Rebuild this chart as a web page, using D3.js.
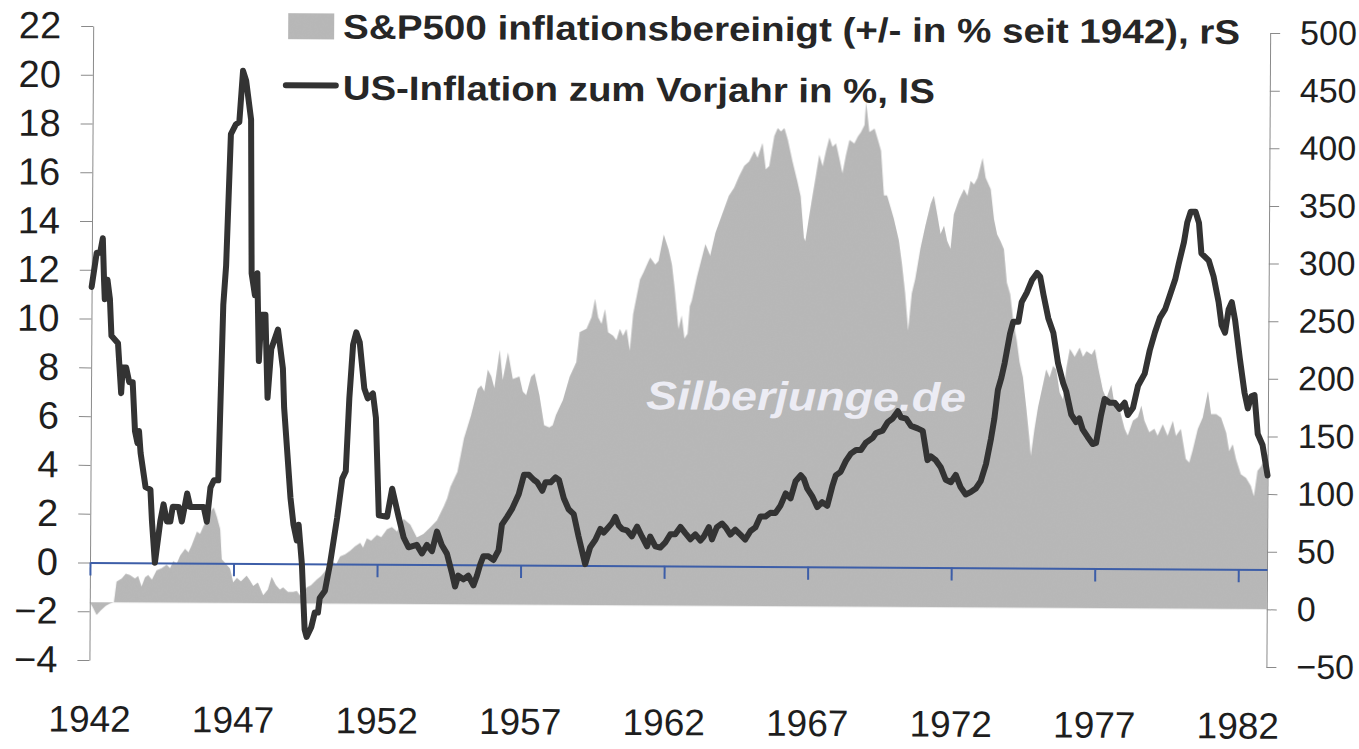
<!DOCTYPE html>
<html>
<head>
<meta charset="utf-8">
<script src="https://cdn.jsdelivr.net/npm/d3@7"></script>
<style>
  body { margin: 0; background: #fff; }
  svg { display: block; font-family: "Liberation Sans", Arial, sans-serif; }
</style>
</head>
<body>
<div id="chart"></div>
<script>
const width = 1359, height = 749;

// US-Inflation zum Vorjahr in % (linke Skala), [Jahr, Wert]
const inflation = [
  [1942.00, 11.3], [1942.17, 12.7], [1942.29, 12.7], [1942.38, 13.3], [1942.43, 11.6],
  [1942.46, 10.8], [1942.55, 11.6], [1942.64, 10.8], [1942.70, 9.3], [1942.93, 9.0],
  [1943.05, 6.95], [1943.10, 8.0], [1943.22, 8.0], [1943.33, 7.4], [1943.45, 7.4],
  [1943.54, 5.4], [1943.63, 4.9], [1943.68, 5.4], [1943.74, 4.5], [1943.92, 3.1],
  [1944.09, 3.0], [1944.15, 1.7], [1944.26, 0.0], [1944.44, 1.7], [1944.55, 2.4],
  [1944.67, 1.7], [1944.79, 1.7], [1944.87, 2.3], [1945.08, 2.3], [1945.19, 1.7],
  [1945.37, 2.85], [1945.48, 2.3], [1945.95, 2.3], [1946.06, 1.7], [1946.18, 3.1],
  [1946.30, 3.4], [1946.45, 3.4], [1946.59, 10.6], [1946.68, 12.2], [1946.82, 17.6],
  [1946.99, 18.0], [1947.11, 18.1], [1947.23, 20.2], [1947.34, 19.8], [1947.52, 18.2],
  [1947.57, 11.9], [1947.69, 11.0], [1947.77, 11.9], [1947.84, 8.3], [1947.92, 10.2],
  [1948.06, 10.2], [1948.15, 6.8], [1948.27, 8.8], [1948.50, 9.6], [1948.68, 8.0],
  [1948.73, 6.4], [1948.97, 2.7], [1949.08, 1.6], [1949.20, 0.95], [1949.26, 1.6],
  [1949.38, 0.0], [1949.49, -2.7], [1949.56, -3.0], [1949.72, -2.6], [1949.84, -2.0],
  [1949.95, -2.0], [1950.01, -1.4], [1950.19, -1.1], [1950.36, 0.0], [1950.60, 1.9],
  [1950.77, 3.5], [1950.89, 3.8], [1951.00, 6.8], [1951.12, 9.0], [1951.23, 9.5],
  [1951.35, 9.1], [1951.52, 7.2], [1951.64, 6.8], [1951.82, 7.0], [1951.93, 6.0],
  [1952.05, 2.0], [1952.34, 1.95], [1952.51, 3.1], [1952.74, 1.95], [1952.92, 1.1],
  [1953.09, 0.7], [1953.38, 0.8], [1953.56, 0.45], [1953.73, 0.8], [1953.91, 0.55],
  [1954.08, 1.35], [1954.25, 0.8], [1954.43, 0.45], [1954.60, -0.3], [1954.72, -0.9],
  [1954.83, -0.45], [1955.01, -0.6], [1955.18, -0.45], [1955.36, -0.85], [1955.48, -0.45],
  [1955.59, 0.0], [1955.70, 0.35], [1955.88, 0.35], [1956.05, 0.2], [1956.23, 0.6],
  [1956.34, 1.65], [1956.52, 1.97], [1956.69, 2.3], [1956.92, 2.9], [1957.10, 3.7],
  [1957.27, 3.7], [1957.44, 3.5], [1957.56, 3.4], [1957.74, 3.05], [1957.85, 3.4],
  [1958.03, 3.4], [1958.20, 3.6], [1958.32, 3.5], [1958.49, 2.75], [1958.66, 2.3],
  [1958.84, 2.1], [1959.01, 1.2], [1959.25, 0.05], [1959.42, 0.75], [1959.60, 1.05],
  [1959.77, 1.5], [1959.89, 1.35], [1960.00, 1.5], [1960.18, 1.75], [1960.29, 2.0],
  [1960.41, 1.65], [1960.53, 1.5], [1960.70, 1.45], [1960.87, 1.2], [1961.05, 1.6],
  [1961.22, 1.2], [1961.40, 0.8], [1961.51, 1.2], [1961.69, 0.8], [1961.86, 0.75],
  [1962.03, 0.95], [1962.21, 1.3], [1962.38, 1.3], [1962.56, 1.6], [1962.73, 1.35],
  [1962.91, 1.1], [1963.08, 1.3], [1963.26, 1.05], [1963.37, 1.2], [1963.55, 1.6],
  [1963.66, 1.1], [1963.83, 1.6], [1964.01, 1.75], [1964.13, 1.6], [1964.30, 1.3],
  [1964.47, 1.5], [1964.65, 1.3], [1964.82, 1.1], [1965.00, 1.45], [1965.17, 1.6],
  [1965.34, 2.05], [1965.52, 2.05], [1965.69, 2.2], [1965.87, 2.2], [1966.04, 2.5],
  [1966.22, 3.0], [1966.39, 2.8], [1966.56, 3.5], [1966.74, 3.75], [1966.85, 3.6],
  [1966.97, 3.2], [1967.14, 2.9], [1967.32, 2.45], [1967.49, 2.65], [1967.67, 2.5],
  [1967.84, 3.3], [1967.96, 3.75], [1968.13, 3.9], [1968.31, 4.35], [1968.48, 4.65],
  [1968.66, 4.8], [1968.83, 4.8], [1969.00, 5.1], [1969.24, 5.3], [1969.35, 5.5],
  [1969.58, 5.6], [1969.76, 5.95], [1969.93, 6.1], [1970.11, 6.4], [1970.22, 6.15],
  [1970.40, 6.1], [1970.57, 5.8], [1970.80, 5.7], [1970.98, 5.6], [1971.15, 4.4],
  [1971.27, 4.55], [1971.44, 4.4], [1971.62, 4.1], [1971.79, 3.6], [1971.97, 3.5],
  [1972.14, 3.8], [1972.31, 3.3], [1972.49, 3.0], [1972.66, 3.1], [1972.84, 3.25],
  [1973.01, 3.55], [1973.19, 4.25], [1973.36, 5.3], [1973.47, 6.1], [1973.59, 7.3],
  [1973.71, 7.8], [1973.82, 8.4], [1974.00, 9.6], [1974.11, 10.1], [1974.29, 10.1],
  [1974.40, 10.9], [1974.58, 11.3], [1974.75, 11.8], [1974.93, 12.1], [1975.04, 11.95],
  [1975.16, 11.2], [1975.33, 10.25], [1975.51, 9.65], [1975.68, 8.4], [1975.86, 7.6],
  [1975.97, 7.25], [1976.15, 6.3], [1976.32, 6.0], [1976.43, 6.15], [1976.55, 5.7],
  [1976.72, 5.4], [1976.90, 5.1], [1977.02, 5.15], [1977.19, 6.3], [1977.31, 6.95],
  [1977.48, 6.8], [1977.66, 6.8], [1977.83, 6.55], [1978.01, 6.8], [1978.12, 6.3],
  [1978.30, 6.6], [1978.47, 7.5], [1978.70, 8.0], [1978.87, 8.95], [1979.05, 9.7],
  [1979.22, 10.3], [1979.40, 10.65], [1979.57, 11.25], [1979.75, 11.9], [1979.86, 12.5],
  [1980.04, 13.4], [1980.15, 14.2], [1980.27, 14.65], [1980.44, 14.65], [1980.56, 14.2],
  [1980.65, 12.95], [1980.91, 12.65], [1981.08, 12.0], [1981.26, 10.95], [1981.37, 10.0],
  [1981.49, 9.7], [1981.61, 10.65], [1981.72, 10.95], [1981.84, 10.2], [1982.01, 8.65],
  [1982.18, 7.25], [1982.30, 6.6], [1982.42, 7.1], [1982.53, 7.15], [1982.65, 5.55],
  [1982.82, 5.1], [1983.00, 3.85]
];

// S&P500 inflationsbereinigt, +/- in % seit 1942 (rechte Skala), [Jahr, Wert]
const sp500 = [
  [1942.00, 0], [1942.10, -4], [1942.24, -11], [1942.38, -7], [1942.56, -3],
  [1942.70, -1], [1942.84, 0], [1942.93, 18], [1943.11, 21], [1943.25, 25],
  [1943.39, 24], [1943.57, 21], [1943.68, 23], [1943.80, 14], [1943.92, 22],
  [1944.03, 24], [1944.16, 20], [1944.32, 28], [1944.50, 30], [1944.67, 33],
  [1944.79, 30], [1944.90, 36], [1945.02, 34], [1945.14, 41], [1945.31, 47],
  [1945.43, 44], [1945.54, 50], [1945.72, 62], [1945.83, 60], [1945.95, 67],
  [1946.07, 72], [1946.18, 79], [1946.30, 83], [1946.41, 75], [1946.53, 64],
  [1946.59, 38], [1946.74, 34], [1946.88, 30], [1946.99, 18], [1947.12, 22],
  [1947.26, 19], [1947.46, 24], [1947.57, 20], [1947.69, 15], [1947.85, 18],
  [1948.04, 7], [1948.20, 12], [1948.33, 23], [1948.48, 16], [1948.62, 12],
  [1948.73, 14], [1948.90, 10], [1949.08, 10], [1949.21, 11], [1949.32, 7],
  [1949.42, 9], [1949.55, 14], [1949.70, 16], [1949.90, 21], [1950.05, 24],
  [1950.25, 30], [1950.48, 36], [1950.57, 34], [1950.71, 41], [1950.89, 43],
  [1951.06, 46], [1951.23, 50], [1951.41, 53], [1951.51, 49], [1951.64, 57],
  [1951.79, 55], [1951.99, 60], [1952.14, 58], [1952.34, 65], [1952.51, 67],
  [1952.69, 63], [1952.92, 74], [1953.15, 69], [1953.38, 58], [1953.61, 61],
  [1953.85, 67], [1954.08, 73], [1954.31, 85], [1954.43, 92], [1954.54, 102],
  [1954.78, 115], [1955.00, 144], [1955.24, 164], [1955.47, 187], [1955.59, 190],
  [1955.70, 185], [1955.82, 204], [1955.94, 198], [1956.05, 188], [1956.23, 221],
  [1956.34, 195], [1956.52, 219], [1956.69, 196], [1956.92, 198], [1957.04, 185],
  [1957.16, 182], [1957.33, 198], [1957.45, 201], [1957.62, 182], [1957.79, 156],
  [1957.97, 154], [1958.09, 156], [1958.20, 165], [1958.44, 178], [1958.67, 198],
  [1958.90, 211], [1959.01, 237], [1959.25, 240], [1959.42, 250], [1959.54, 266],
  [1959.65, 250], [1959.77, 244], [1959.89, 257], [1960.00, 237], [1960.18, 234],
  [1960.29, 230], [1960.41, 240], [1960.52, 234], [1960.64, 240], [1960.76, 221],
  [1960.87, 253], [1961.10, 283], [1961.22, 289], [1961.34, 296], [1961.45, 302],
  [1961.63, 296], [1961.74, 299], [1961.92, 322], [1962.09, 309], [1962.21, 296],
  [1962.31, 275], [1962.45, 240], [1962.56, 252], [1962.66, 232], [1962.77, 236],
  [1962.84, 260], [1962.91, 265], [1963.08, 285], [1963.37, 314], [1963.54, 304],
  [1963.72, 324], [1963.95, 340], [1964.18, 356], [1964.36, 363], [1964.53, 373],
  [1964.71, 382], [1964.88, 386], [1965.06, 395], [1965.17, 389], [1965.34, 402],
  [1965.46, 379], [1965.58, 382], [1965.75, 408], [1965.87, 415], [1965.98, 412],
  [1966.10, 415], [1966.22, 405], [1966.39, 386], [1966.56, 369], [1966.68, 356],
  [1966.80, 320], [1966.85, 317], [1966.97, 337], [1967.09, 356], [1967.20, 373],
  [1967.32, 392], [1967.44, 382], [1967.55, 395], [1967.67, 407], [1967.78, 399],
  [1967.90, 402], [1968.02, 389], [1968.13, 376], [1968.25, 392], [1968.37, 405],
  [1968.54, 402], [1968.66, 408], [1968.77, 412], [1968.89, 418], [1968.94, 438],
  [1969.06, 412], [1969.24, 415], [1969.35, 406], [1969.47, 396], [1969.58, 357],
  [1969.69, 357], [1969.81, 347], [1969.93, 337], [1970.11, 318], [1970.22, 298],
  [1970.34, 272], [1970.45, 240], [1970.57, 272], [1970.69, 285], [1970.86, 311],
  [1971.03, 331], [1971.21, 350], [1971.32, 357], [1971.44, 341], [1971.56, 324],
  [1971.68, 331], [1971.79, 318], [1971.91, 311], [1972.02, 341], [1972.20, 354],
  [1972.37, 363], [1972.49, 357], [1972.60, 370], [1972.72, 367], [1972.84, 373],
  [1973.01, 390], [1973.12, 373], [1973.30, 363], [1973.42, 337], [1973.53, 324],
  [1973.65, 318], [1973.77, 311], [1973.88, 282], [1974.00, 272], [1974.11, 249],
  [1974.23, 233], [1974.34, 213], [1974.46, 200], [1974.58, 174], [1974.69, 148],
  [1974.75, 132], [1974.87, 155], [1974.99, 174], [1975.16, 194], [1975.27, 207],
  [1975.39, 200], [1975.51, 210], [1975.62, 207], [1975.74, 187], [1975.86, 181],
  [1975.97, 208], [1976.09, 225], [1976.26, 218], [1976.43, 226], [1976.55, 218],
  [1976.67, 223], [1976.85, 220], [1976.96, 225], [1977.08, 209], [1977.25, 189],
  [1977.37, 182], [1977.54, 194], [1977.66, 176], [1977.83, 173], [1978.01, 156],
  [1978.12, 150], [1978.30, 163], [1978.47, 166], [1978.59, 176], [1978.70, 163],
  [1978.87, 153], [1979.05, 156], [1979.16, 150], [1979.34, 160], [1979.51, 150],
  [1979.69, 163], [1979.80, 150], [1979.97, 156], [1980.15, 130], [1980.27, 127],
  [1980.38, 137], [1980.56, 156], [1980.73, 166], [1980.91, 189], [1981.02, 169],
  [1981.20, 169], [1981.37, 166], [1981.55, 153], [1981.66, 137], [1981.78, 143],
  [1981.90, 130], [1982.07, 117], [1982.25, 114], [1982.42, 107], [1982.53, 98],
  [1982.65, 120], [1982.77, 124], [1983.00, 135]
];

const leftTicks = [22, 20, 18, 16, 14, 12, 10, 8, 6, 4, 2, 0, -2, -4];
const rightTicks = [500, 450, 400, 350, 300, 250, 200, 150, 100, 50, 0, -50];
const yearTicks = [1942, 1947, 1952, 1957, 1962, 1967, 1972, 1977, 1982];

const legendArea = "S&P500 inflationsbereinigt (+/- in % seit 1942), rS";
const legendLine = "US-Inflation zum Vorjahr in %, lS";
const watermark = "Silberjunge.de";

const plot = {left: 90, right: 1267, top: 26, bottom: 660};

const x = d3.scaleLinear().domain([1942, 1983]).range([plot.left, plot.right]);
const yL = d3.scaleLinear().domain([-4, 22]).range([plot.bottom, plot.top]);
const yR = d3.scaleLinear().domain([-50, 500]).range([plot.bottom, plot.top]);

const svg = d3.select("#chart").append("svg")
    .attr("width", width)
    .attr("height", height);

// light grain, the original is a scan
const defs = svg.append("defs");
const grain = defs.append("filter").attr("id", "grain")
    .attr("x", 0).attr("y", 0).attr("width", 1).attr("height", 1);
grain.append("feTurbulence")
    .attr("type", "fractalNoise").attr("baseFrequency", 0.8)
    .attr("numOctaves", 2).attr("seed", 3).attr("result", "noise");
grain.append("feColorMatrix").attr("in", "noise").attr("type", "matrix")
    .attr("values", "0 0 0 0 0.55  0 0 0 0 0.55  0 0 0 0 0.55  0 0 0 0.25 0")
    .attr("result", "tone");
grain.append("feComposite").attr("in", "tone").attr("in2", "SourceGraphic")
    .attr("operator", "in").attr("result", "dots");
grain.append("feMerge").selectAll("feMergeNode")
    .data(["SourceGraphic", "dots"]).enter()
    .append("feMergeNode").attr("in", d => d);

// the scanned original is tilted a little, so tilt the whole drawing the same way
const g = svg.append("g")
    .attr("transform", `rotate(0.34, ${plot.left}, ${yL(0)})`);

// grey area, S&P500
const area = d3.area()
    .x(d => x(d[0]))
    .y0(yR(0))
    .y1(d => yR(d[1]));

g.append("path")
    .datum(sp500)
    .attr("d", area)
    .attr("fill", "#b6b6b6")
    .attr("filter", "url(#grain)");

// watermark
g.append("text")
    .attr("x", 645)
    .attr("y", 406)
    .attr("textLength", 320)
    .attr("lengthAdjust", "spacingAndGlyphs")
    .style("font-size", "40px")
    .style("font-weight", "bold")
    .style("font-style", "italic")
    .style("fill", "#ececf4")
    .text(watermark);

// left axis
const axL = g.append("g")
    .attr("transform", `translate(${plot.left},0)`)
    .call(d3.axisLeft(yL).tickValues(leftTicks).tickSize(12).tickSizeOuter(0).tickPadding(20));
axL.selectAll("path, line").attr("stroke", "#8a8a8a");
axL.selectAll("text")
    .style("font-size", "38px")
    .style("fill", "#1e1e1e")
    .style("font-family", "'Liberation Sans', Arial, sans-serif");

// right axis
const axR = g.append("g")
    .attr("transform", `translate(${plot.right},0)`)
    .call(d3.axisRight(yR).tickValues(rightTicks).tickSize(10).tickSizeOuter(0).tickPadding(20));
axR.selectAll("path, line").attr("stroke", "#8a8a8a");
axR.selectAll("text")
    .style("font-size", "34px")
    .style("fill", "#1e1e1e")
    .style("font-family", "'Liberation Sans', Arial, sans-serif");

// blue zero line with year ticks
const axX = g.append("g")
    .attr("transform", `translate(0,${yL(0)})`)
    .call(d3.axisBottom(x).tickValues(yearTicks).tickFormat(d3.format("d"))
        .tickSize(13).tickSizeOuter(0).tickPadding(130));
axX.selectAll("path, line").attr("stroke", "#3d5ea8").attr("stroke-width", 2);
axX.selectAll("text")
    .style("font-size", "37px")
    .style("fill", "#1e1e1e")
    .style("font-family", "'Liberation Sans', Arial, sans-serif");

// inflation line
const line = d3.line()
    .x(d => x(d[0]))
    .y(d => yL(d[1]));

g.append("path")
    .datum(inflation)
    .attr("d", line)
    .attr("fill", "none")
    .attr("stroke", "#333")
    .attr("stroke-width", 6)
    .attr("stroke-linejoin", "round")
    .attr("stroke-linecap", "round");

// legend
const legend = g.append("g");
legend.append("rect")
    .attr("x", 285).attr("y", 12)
    .attr("width", 46).attr("height", 26)
    .attr("fill", "#b6b6b6")
    .attr("filter", "url(#grain)");
legend.append("text")
    .attr("x", 340).attr("y", 37)
    .attr("textLength", 897)
    .attr("lengthAdjust", "spacingAndGlyphs")
    .style("font-size", "34px")
    .style("font-weight", "bold")
    .style("fill", "#262626")
    .text(legendArea);
legend.append("line")
    .attr("x1", 283).attr("x2", 333)
    .attr("y1", 84).attr("y2", 84)
    .attr("stroke", "#333")
    .attr("stroke-width", 6)
    .attr("stroke-linecap", "round");
legend.append("text")
    .attr("x", 340).attr("y", 98)
    .attr("textLength", 592)
    .attr("lengthAdjust", "spacingAndGlyphs")
    .style("font-size", "34px")
    .style("font-weight", "bold")
    .style("fill", "#262626")
    .text(legendLine);
</script>
</body>
</html>
